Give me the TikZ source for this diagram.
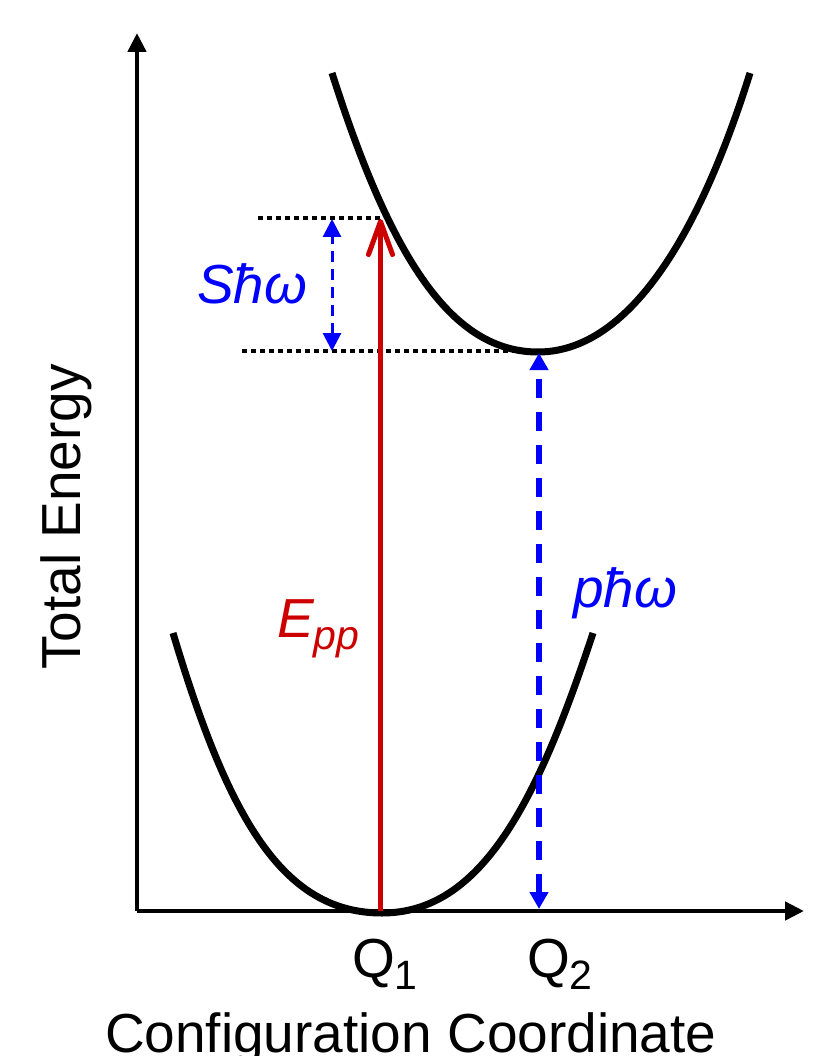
\documentclass[tikz,border=0pt]{standalone}
\usepackage{fontspec}
\setmainfont{Liberation Sans}
\usetikzlibrary{arrows.meta}
\definecolor{myred}{RGB}{204,0,0}
\definecolor{myblue}{RGB}{0,0,255}
\newcommand{\mysub}[1]{\raisebox{-12.5pt}{\fontsize{41}{42}\selectfont #1}}
\begin{document}
\begin{tikzpicture}[x=1pt,y=-1pt,
  lbl/.style={inner sep=0pt, outer sep=0pt, font=\fontsize{55}{62}\selectfont},
  axisline/.style={line width=4.5pt, -{Triangle[length=19pt,width=18pt]}},
  curveline/.style={line width=7pt, line join=round},
  dotline/.style={line width=4.5pt, dash pattern=on 4.5pt off 4.5pt},
  bigblue/.style={myblue, line width=6pt, dash pattern=on 19pt off 14pt,
     {Triangle[length=17pt,width=18pt]}-{Triangle[length=17pt,width=18pt]}},
  smallblue/.style={myblue, line width=3pt, dash pattern=on 11pt off 7pt,
     {Triangle[length=18pt,width=18pt]}-{Triangle[length=18pt,width=18pt]}},
  redarrow/.style={myred, line width=5pt, -{Straight Barb[length=33pt,width=24pt,round]}}
]
\useasboundingbox (0,0) rectangle (839,1056);

% axes
\coordinate (origin) at (137,911);
\coordinate (ytip) at (137,33);
\coordinate (xtip) at (804,911);
\draw[axisline] (origin) -- (ytip);
\draw[axisline] (origin) -- (xtip);

% lower curve (ground state)
\coordinate (lowL) at (173,633);
\coordinate (lowM) at (382,913);
\coordinate (lowR) at (593,633);
\draw[curveline] (lowL) .. controls (228,817) and (282,913) .. (lowM)
                        .. controls (482,913) and (538,800) .. (lowR);

% upper curve (excited state)
\coordinate (upL) at (332,73);
\coordinate (upM) at (538,352);
\coordinate (upR) at (750,73);
\draw[curveline] (upL) .. controls (392,262) and (453,352) .. (upM)
                       .. controls (623,352) and (695,249) .. (upR);

% dotted level lines
\coordinate (d1a) at (258,218);
\coordinate (d1b) at (383,218);
\coordinate (d2a) at (242,351);
\coordinate (d2b) at (538,351);
\draw[dotline] (d1a) -- (d1b);
\draw[dotline] (d2a) -- (d2b);

% red excitation arrow
\coordinate (q1) at (380.5,911);
\coordinate (ex) at (380.5,219);
\draw[redarrow] (q1) -- (ex);

% blue arrows
\coordinate (q2) at (539,909);
\coordinate (m2) at (539,353);
\draw[bigblue] (q2) -- (m2);
\coordinate (s1) at (332,351);
\coordinate (s2) at (332,219);
\draw[smallblue] (s1) -- (s2);

% labels
\node[lbl, myblue, anchor=base west] (shw) at (197,303) {\itshape Sħω};
\node[lbl, myred, anchor=base west] (epp) at (277,637) {\itshape E\mysub{pp}};
\node[lbl, myblue, anchor=base west] (phw) at (573,607) {\itshape pħω};
\node[lbl, anchor=base west] (Q1) at (352,977) {Q\mysub{1}};
\node[lbl, anchor=base west] (Q2) at (527,977) {Q\mysub{2}};
\node[lbl, anchor=base west] (xl) at (105,1052) {Configuration Coordinate};
\node[lbl, rotate=90, anchor=base] (yl) at (80,517) {Total Energy};
\end{tikzpicture}
\end{document}
